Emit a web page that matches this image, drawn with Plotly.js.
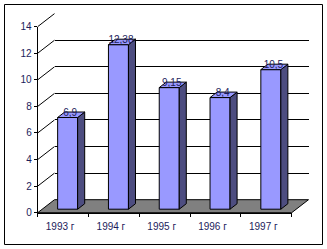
<!DOCTYPE html>
<html><head><meta charset="utf-8">
<script src="https://cdn.plot.ly/plotly-3.0.1.min.js"></script>
<style>html,body{margin:0;padding:0;background:#fff}#c{width:327px;height:249px}</style>
</head><body><div id="c"></div>
<script>
// ---- data ----
var categories = ["1993 г", "1994 г", "1995 г", "1996 г", "1997 г"];
var values = [6.9, 12.38, 9.15, 8.4, 10.5];
var yTicks = [0, 2, 4, 6, 8, 10, 12, 14];

// ---- geometry (pixels) ----
var W = 327, H = 249;
var X0 = 37.7, Y0 = 212.7;      // front axes origin (x at category -0.5, y at 0)
var SX = 50.8, SY = 13.29;      // px per category, px per unit
var DX = 16.8, DY = 13.0;       // depth offset of back wall
var ddx = DX / SX, ddy = DY / SY;
var f1 = 0.27, dd = 0.42;       // bar depth start & depth fraction
var bw = 20 / SX;
var txtColor = "#1c1c5c";
var font = "Arial, 'Liberation Sans', sans-serif";

var worldX = [-0.5 - X0 / SX, -0.5 + (W - X0) / SX];
var worldY = [-(H - Y0) / SY, Y0 / SY];

// floor & left wall diagonals
var floorX = [-0.5, 4.5, 4.5 + ddx, -0.5 + ddx, -0.5];
var floorY = [0, 0, ddy, ddy, 0];
var diagX = [], diagY = [];
yTicks.forEach(function (t) {
  if (t === 0) return;
  diagX.push(-0.5, -0.5 + ddx, null);
  diagY.push(t, t + ddy, null);
});

// bars
var barX = values.map(function (v, i) { return i + f1 * ddx; });
var base = f1 * ddy;
var sideX = [], sideY = [], topX = [], topY = [];
values.forEach(function (v, i) {
  var xl = barX[i] - bw / 2, xr = barX[i] + bw / 2, yt = base + v;
  var ox = dd * ddx, oy = dd * ddy;
  sideX.push(xr, xr, xr + ox, xr + ox, xr, null);
  sideY.push(base, yt, yt + oy, base + oy, base, null);
  topX.push(xl, xr, xr + ox, xl + ox, xl, null);
  topY.push(yt, yt, yt + oy, yt + oy, yt, null);
});
var labX = barX.map(function (x) { return x + 0.05; });
var labY = values.map(function (v) { return base + v + 0.3; });
var labT = values.map(function (v) { return String(v).replace('.', ','); });

var traces = [
  {type: 'scatter', x: [], y: [], xaxis: 'x', yaxis: 'y', hoverinfo: 'skip', showlegend: false},
  {type: 'scatter', x: floorX, y: floorY, xaxis: 'x2', yaxis: 'y2', mode: 'lines', fill: 'toself',
   fillcolor: '#808080', line: {color: '#000', width: 1}, hoverinfo: 'skip', showlegend: false},
  {type: 'scatter', x: diagX, y: diagY, xaxis: 'x2', yaxis: 'y2', mode: 'lines',
   line: {color: '#000', width: 1}, hoverinfo: 'skip', showlegend: false},
  {type: 'bar', x: barX, y: values, base: base, width: bw, xaxis: 'x3', yaxis: 'y3',
   marker: {color: '#9999FF', line: {color: '#000', width: 1}}, hoverinfo: 'skip', showlegend: false},
  {type: 'scatter', x: sideX, y: sideY, xaxis: 'x3', yaxis: 'y3', mode: 'lines', fill: 'toself',
   fillcolor: '#4D4D80', line: {color: '#000', width: 1}, hoverinfo: 'skip', showlegend: false},
  {type: 'scatter', x: topX, y: topY, xaxis: 'x3', yaxis: 'y3', mode: 'lines', fill: 'toself',
   fillcolor: '#9999FF', line: {color: '#000', width: 1}, hoverinfo: 'skip', showlegend: false},
  {type: 'scatter', x: labX, y: labY, text: labT, xaxis: 'x3', yaxis: 'y3', mode: 'text',
   textposition: 'middle center', textfont: {family: font, size: 10, color: txtColor},
   hoverinfo: 'skip', showlegend: false, cliponaxis: false},
  {type: 'bar', x: categories, y: [], xaxis: 'x4', yaxis: 'y4', hoverinfo: 'skip', showlegend: false}
];

function hidden(extra) {
  var a = {showgrid: false, zeroline: false, showline: false, showticklabels: false, ticks: '', fixedrange: true};
  for (var k in extra) a[k] = extra[k];
  return a;
}

var layout = {
  width: W, height: H,
  margin: {l: 0, r: 0, t: 0, b: 0},
  paper_bgcolor: '#fff', plot_bgcolor: 'rgba(0,0,0,0)',
  showlegend: false, hovermode: false,
  font: {family: font, size: 10, color: txtColor},
  // back wall
  xaxis: hidden({domain: [(X0 + DX) / W, (X0 + DX + 5 * SX) / W], range: [-0.5, 4.5], anchor: 'y'}),
  yaxis: hidden({domain: [1 - (Y0 - DY) / H, 1 - (Y0 - DY - 14 * SY) / H], range: [0, 14], anchor: 'x',
                 showgrid: true, gridcolor: '#000', gridwidth: 1, tickvals: yTicks}),
  // floor / walls world
  xaxis2: hidden({domain: [0, 1], range: worldX, anchor: 'y2'}),
  yaxis2: hidden({domain: [0, 1], range: worldY, anchor: 'x2'}),
  // bars world
  xaxis3: hidden({domain: [0, 1], range: worldX, anchor: 'y3'}),
  yaxis3: hidden({domain: [0, 1], range: worldY, anchor: 'x3'}),
  // front axes
  xaxis4: {domain: [X0 / W, (X0 + 5 * SX) / W], anchor: 'y4', type: 'category', categoryarray: categories,
           range: [-0.5, 4.5], showgrid: false, zeroline: false, showline: true, linecolor: '#000', linewidth: 1,
           ticks: 'outside', tickson: 'boundaries', ticklen: 3, tickcolor: '#000',
           ticklabelstandoff: 4, ticklabelshift: -3,
           tickfont: {family: font, size: 10, color: txtColor}, fixedrange: true},
  yaxis4: {domain: [1 - Y0 / H, 1 - (Y0 - 14 * SY) / H], anchor: 'x4', range: [0, 14], tickvals: yTicks,
           showgrid: false, zeroline: false, showline: true, linecolor: '#000', linewidth: 1,
           ticks: 'outside', ticklen: 3, tickcolor: '#000',
           tickfont: {family: font, size: 10, color: txtColor}, fixedrange: true},
  shapes: [{type: 'rect', xref: 'paper', yref: 'paper', x0: 4.5 / W, x1: 322.5 / W, y0: 1 - 244.5 / H, y1: 1 - 4.5 / H,
            line: {color: '#000', width: 1}, fillcolor: 'rgba(0,0,0,0)', layer: 'above'}]
};

Plotly.newPlot('c', traces, layout, {staticPlot: true, displayModeBar: false});
</script></body></html>
